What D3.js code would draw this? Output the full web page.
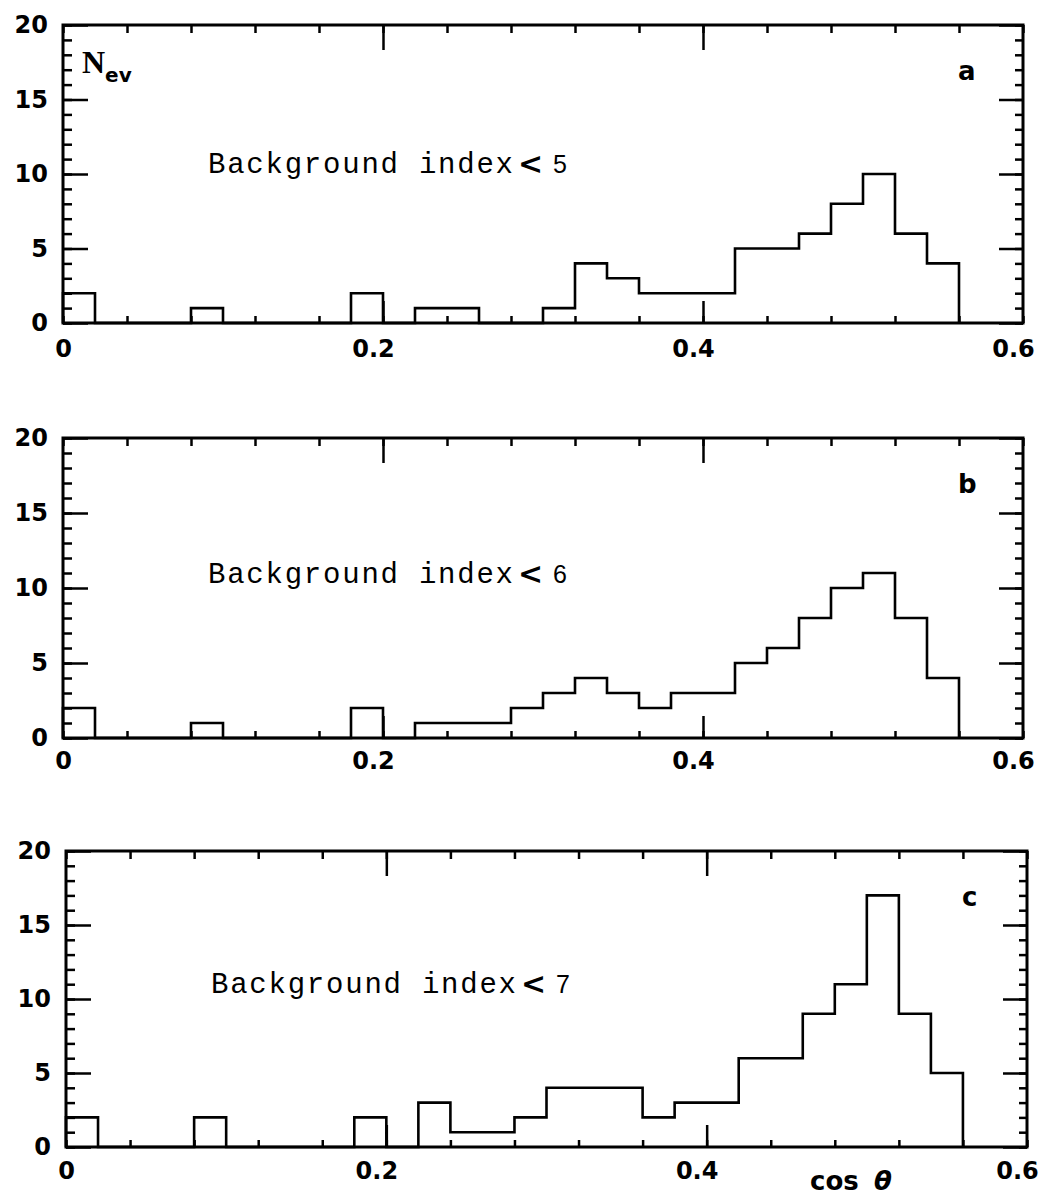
<!DOCTYPE html>
<html>
<head>
<meta charset="utf-8">
<script src="https://cdn.jsdelivr.net/npm/d3@7"></script>
<style>
    body { margin: 0; background: #fff; }
    svg { display: block; }
</style>
</head>
<body>
<div id="container"></div>
<script>
'use strict';

//Histogram bins (lower edges, width 0.02 in cos theta)
const binStarts = [0, 0.02, 0.04, 0.06, 0.08, 0.10, 0.12, 0.14, 0.16, 0.18,
    0.20, 0.22, 0.24, 0.26, 0.28, 0.30, 0.32, 0.34, 0.36, 0.38,
    0.40, 0.42, 0.44, 0.46, 0.48, 0.50, 0.52, 0.54];
const binWidth = 0.02;

//Event counts per bin
const countsA = [2, 0, 0, 0, 1, 0, 0, 0, 0, 2, 0, 1, 1, 0, 0, 1, 4, 3, 2, 2, 2, 5, 5, 6, 8, 10, 6, 4];
const countsB = [2, 0, 0, 0, 1, 0, 0, 0, 0, 2, 0, 1, 1, 1, 2, 3, 4, 3, 2, 3, 3, 5, 6, 8, 10, 11, 8, 4];
const countsC = [2, 0, 0, 0, 2, 0, 0, 0, 0, 2, 0, 3, 1, 1, 2, 4, 4, 4, 2, 3, 3, 6, 6, 9, 11, 17, 9, 5];

//Axis ticks
const yLabels = [0, 5, 10, 15, 20];
const yMinor = [0, 1, 2, 3, 4, 5, 6, 7, 8, 9, 10, 11, 12, 13, 14, 15, 16, 17, 18, 19, 20];
const xLabels = [0, 0.2, 0.4, 0.6];
const xMajor = [0.2, 0.4];
const xMinor = [0, 0.04, 0.08, 0.12, 0.16, 0.2, 0.24, 0.28, 0.32, 0.36, 0.4, 0.44, 0.48, 0.52, 0.56, 0.6];
const X_DOMAIN = [0, 0.6];
const Y_DOMAIN = [0, 20];

//Panels
const panelNames = ['a', 'b', 'c'];
const cuts = ['5', '6', '7'];
const panelCounts = [countsA, countsB, countsC];

//Sizing
const VIZ = { WIDTH: 1045, HEIGHT: 1198 };
const BOXES = [
    { LEFT: 63, TOP: 25, RIGHT: 1023, BOTTOM: 323, GAP: 17 },
    { LEFT: 63, TOP: 438, RIGHT: 1023, BOTTOM: 738, GAP: 14 },
    { LEFT: 66, TOP: 851, RIGHT: 1027, BOTTOM: 1147, GAP: 15 },
];
const NUM_FONT = '"DejaVu Sans", sans-serif';

const svg = d3.select('#container')
    .append('svg')
    .attr('width', VIZ.WIDTH)
    .attr('height', VIZ.HEIGHT)
    .attr('viewBox', `0 0 ${VIZ.WIDTH} ${VIZ.HEIGHT}`);

svg.append('rect')
    .attr('width', VIZ.WIDTH)
    .attr('height', VIZ.HEIGHT)
    .attr('fill', '#fff');

panelNames.forEach((name, i) => drawPanel(name, cuts[i], panelCounts[i], BOXES[i], i));

//x axis title under the last panel
svg.append('text')
    .attr('x', 810)
    .attr('y', 1190)
    .attr('font-family', NUM_FONT)
    .attr('font-weight', 'bold')
    .attr('font-size', 26)
    .text('cos');
svg.append('text')
    .attr('x', 874)
    .attr('y', 1190)
    .attr('font-family', NUM_FONT)
    .attr('font-weight', 'bold')
    .attr('font-style', 'italic')
    .attr('font-size', 26)
    .text('θ');

//Draw one histogram panel
function drawPanel(name, cut, counts, box, index) {
    const x = d3.scaleLinear().domain(X_DOMAIN).range([box.LEFT, box.RIGHT]);
    const y = d3.scaleLinear().domain(Y_DOMAIN).range([box.BOTTOM, box.TOP]);
    const g = svg.append('g').attr('class', `panel panel-${name}`);

    //Ticks pointing inward on all four sides
    drawAxis(g, d3.axisLeft(y).tickValues(yMinor).tickSize(-9), box.LEFT, 0);
    drawAxis(g, d3.axisLeft(y).tickValues(yLabels).tickSize(-25), box.LEFT, 0);
    drawAxis(g, d3.axisRight(y).tickValues(yMinor).tickSize(-8), box.RIGHT, 0);
    drawAxis(g, d3.axisRight(y).tickValues(yLabels).tickSize(-24), box.RIGHT, 0);
    drawAxis(g, d3.axisTop(x).tickValues(xMinor).tickSize(-8), 0, box.TOP);
    drawAxis(g, d3.axisTop(x).tickValues(xMajor).tickSize(-25), 0, box.TOP);
    drawAxis(g, d3.axisBottom(x).tickValues(xMinor).tickSize(-7), 0, box.BOTTOM);
    drawAxis(g, d3.axisBottom(x).tickValues(xMajor).tickSize(-22), 0, box.BOTTOM);

    //Tick labels
    drawLabels(g, d3.axisLeft(y).tickValues(yLabels).tickSize(0).tickPadding(15), box.LEFT, 0);
    drawLabels(g, d3.axisBottom(x).tickValues(xLabels).tickSize(0).tickPadding(box.GAP)
        .tickFormat(d => d === 0 ? '0' : d3.format('.1f')(d)), 0, box.BOTTOM)
        .selectAll('text')
        .attr('dx', d => d === 0 ? 0 : -10);

    //Frame
    g.append('rect')
        .attr('x', box.LEFT)
        .attr('y', box.TOP)
        .attr('width', box.RIGHT - box.LEFT)
        .attr('height', box.BOTTOM - box.TOP)
        .attr('fill', 'none')
        .attr('stroke', '#000')
        .attr('stroke-width', 3);

    //Histogram outline
    const points = [[binStarts[0], 0]]
        .concat(binStarts.map((b, k) => [b, counts[k]]))
        .concat([[binStarts[binStarts.length - 1] + binWidth, 0]]);
    const line = d3.line()
        .x(d => x(d[0]))
        .y(d => y(d[1]))
        .curve(d3.curveStepAfter);
    g.append('path')
        .attr('d', line(points))
        .attr('fill', 'none')
        .attr('stroke', '#000')
        .attr('stroke-width', 2.6)
        .attr('stroke-linejoin', 'miter');

    //Annotation
    const textY = box.TOP + 148 - index * 3;
    g.append('text')
        .attr('x', box.LEFT + 145)
        .attr('y', textY)
        .attr('font-family', '"Liberation Mono", monospace')
        .attr('font-size', 29)
        .attr('textLength', 305)
        .attr('lengthAdjust', 'spacing')
        .text('Background index');
    g.append('text')
        .attr('x', box.LEFT + 455)
        .attr('y', textY + 1)
        .attr('font-family', NUM_FONT)
        .attr('font-weight', 'bold')
        .attr('font-size', 30)
        .text('<');
    g.append('text')
        .attr('x', box.LEFT + 490)
        .attr('y', textY)
        .attr('font-family', '"Liberation Sans", sans-serif')
        .attr('font-size', 25)
        .text(cut);

    //Panel letter
    g.append('text')
        .attr('x', box.RIGHT - 65)
        .attr('y', box.TOP + 55)
        .attr('font-family', NUM_FONT)
        .attr('font-weight', 'bold')
        .attr('font-size', 26)
        .text(name);

    //y axis title in the first panel
    if (index === 0) {
        const t = g.append('text')
            .attr('x', box.LEFT + 19)
            .attr('y', box.TOP + 48)
            .attr('font-family', '"Liberation Serif", serif')
            .attr('font-weight', 'bold')
            .attr('font-size', 32);
        t.append('tspan').text('N');
        t.append('tspan')
            .attr('dy', 9)
            .attr('font-size', 20)
            .attr('font-family', NUM_FONT)
            .text('ev');
    }
}

//Tick marks only
function drawAxis(place, axis, left, top) {
    return place.append('g')
        .attr('transform', `translate(${left}, ${top})`)
        .call(axis.tickFormat(''))
        .call(a => a.select('.domain').remove())
        .call(a => a.selectAll('line').attr('stroke', '#000').attr('stroke-width', 2.5));
}

//Tick labels only
function drawLabels(place, axis, left, top) {
    return place.append('g')
        .attr('transform', `translate(${left}, ${top})`)
        .call(axis)
        .call(a => a.select('.domain').remove())
        .call(a => a.selectAll('line').remove())
        .call(a => a.selectAll('text')
            .attr('fill', '#000')
            .attr('font-family', NUM_FONT)
            .attr('font-weight', 'bold')
            .attr('font-size', 24));
}
</script>
</body>
</html>
